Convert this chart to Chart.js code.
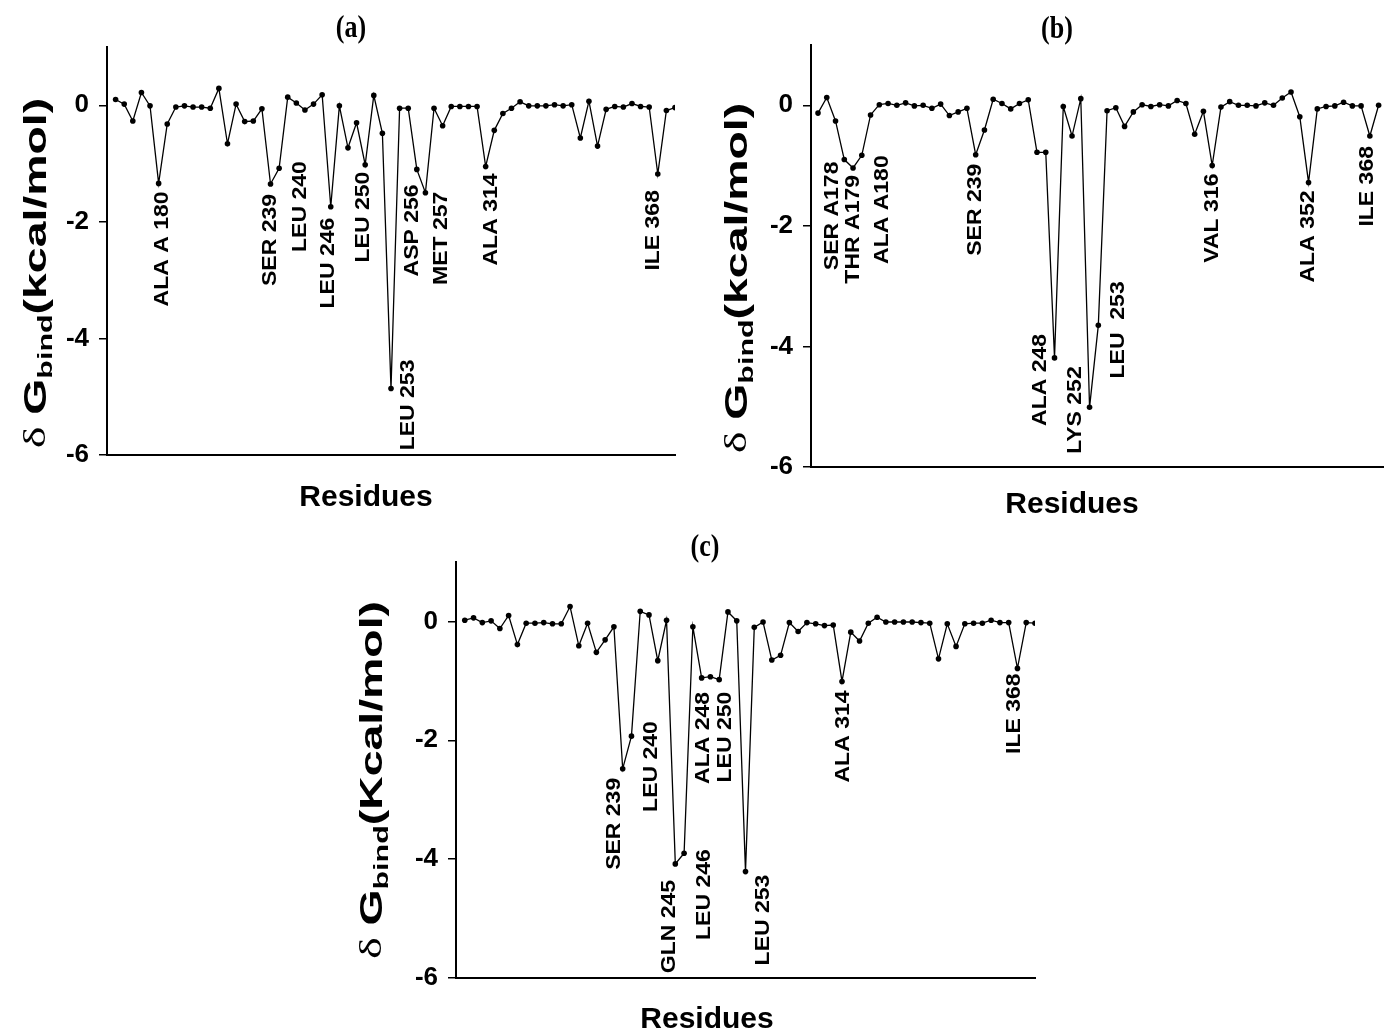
<!DOCTYPE html>
<html lang="en">
<head>
    <meta charset="utf-8">
    <title>Per-residue decomposition of binding free energy</title>
    <script src="https://cdn.jsdelivr.net/npm/chart.js"></script>
    <style>
        html, body { margin: 0; padding: 0; background: #fff; }
        #figura { position: relative; width: 1387px; height: 1035px; overflow: hidden; }
        .painel { position: absolute; }
    </style>
</head>
<body>
    <div id="figura">
        <canvas id="graficoA" class="painel" width="690" height="530" style="left:0;top:0"></canvas>
        <canvas id="graficoB" class="painel" width="687" height="530" style="left:700px;top:0"></canvas>
        <canvas id="graficoC" class="painel" width="710" height="505" style="left:340px;top:530px"></canvas>
    </div>

    <script>
        // delta G bind per residue (kcal/mol)
        let dgA = [0.10, 0.02, -0.27, 0.22, -0.01, -1.34, -0.32, -0.03, -0.01, -0.03,
                   -0.03, -0.05, 0.29, -0.66, 0.02, -0.28, -0.27, -0.06, -1.35, -1.08,
                   0.14, 0.04, -0.08, 0.02, 0.18, -1.74, -0.01, -0.73, -0.30, -1.02,
                   0.17, -0.48, -4.86, -0.05, -0.05, -1.10, -1.50, -0.05, -0.35, -0.02,
                   -0.02, -0.02, -0.02, -1.05, -0.43, -0.14, -0.05, 0.06, -0.01, -0.01,
                   -0.01, 0.01, -0.01, 0.01, -0.56, 0.07, -0.70, -0.07, -0.02, -0.03,
                   0.03, -0.02, -0.03, -1.18, -0.09, -0.04];
        let dgB = [-0.13, 0.13, -0.26, -0.90, -1.04, -0.83, -0.16, 0.01, 0.03, 0.00,
                   0.04, -0.01, 0.00, -0.05, 0.02, -0.17, -0.11, -0.05, -0.82, -0.41,
                   0.10, 0.03, -0.06, 0.03, 0.09, -0.78, -0.78, -4.19, -0.02, -0.51,
                   0.11, -5.01, -3.65, -0.09, -0.04, -0.35, -0.11, 0.01, -0.02, 0.01,
                   -0.01, 0.08, 0.03, -0.48, -0.10, -1.00, -0.03, 0.06, 0.00, 0.00,
                   -0.01, 0.04, 0.00, 0.12, 0.22, -0.19, -1.28, -0.06, -0.02, -0.01,
                   0.05, -0.01, -0.01, -0.51, 0.00];
        let dgC = [0.02, 0.06, -0.02, 0.01, -0.12, 0.10, -0.39, -0.03, -0.03, -0.02,
                   -0.04, -0.04, 0.25, -0.41, -0.03, -0.52, -0.31, -0.09, -2.48, -1.93,
                   0.17, 0.11, -0.66, 0.02, -4.08, -3.90, -0.09, -0.95, -0.93, -0.98,
                   0.16, 0.01, -4.21, -0.10, -0.01, -0.65, -0.57, -0.02, -0.17, -0.02,
                   -0.04, -0.07, -0.06, -1.01, -0.18, -0.33, -0.03, 0.07, -0.01, -0.01,
                   -0.01, -0.01, -0.02, -0.03, -0.63, -0.04, -0.42, -0.04, -0.03, -0.03,
                   0.02, -0.02, -0.02, -0.79, -0.02, -0.03];

        // labelled residues (position in the series, 1-based) and their names
        let rotIdxA = [6, 19, 20, 26, 30, 33, 36, 37, 44, 64];
        let rotTxtA = ['ALA A 180', 'SER 239', 'LEU 240', 'LEU 246', 'LEU 250', 'LEU 253', 'ASP 256', 'MET 257', 'ALA 314', 'ILE 368'];
        let rotIdxB = [4, 5, 6, 19, 28, 32, 33, 46, 57, 64];
        let rotTxtB = ['SER A178', 'THR A179', 'ALA A180', 'SER 239', 'ALA 248', 'LYS 252', 'LEU  253', 'VAL 316', 'ALA 352', 'ILE 368'];
        let rotIdxC = [19, 20, 25, 26, 28, 30, 33, 44, 64];
        let rotTxtC = ['SER 239', 'LEU 240', 'GLN 245', 'LEU 246', 'ALA 248', 'LEU 250', 'LEU 253', 'ALA 314', 'ILE 368'];

        let yTicks = [-6, -4, -2, 0];

        // where each label sits relative to its point (px)
        let desvioA = [[4, 8], [0, 10], [21, -7], [-2, 11], [-2, 7], [17, -29], [-4, 15], [16, -1], [6, 7], [-4, 16]];
        let desvioB = [[-12, 2], [0, 7], [21, 0], [0, 9], [-14, -24], [-14, -41], [20, -44], [0, 8], [0, 8], [-2, 10]];
        let desvioC = [[-8, 9], [20, -15], [-6, 16], [20, -4], [2, 14], [6, 12], [18, 3], [1, 9], [-3, 5]];

        const SANS = '"Liberation Sans", Arial, Helvetica, sans-serif';
        const SERIF = '"Liberation Serif", "Times New Roman", serif';
        const ESTICA = 1.15;   // the source figure is stretched vertically a little

        let paineis = [
            { id: 'graficoA', tag: '(a)', dados: dgA, idx: rotIdxA, txt: rotTxtA, desvio: desvioA, unidade: '(kcal/mol)',
              xMin: 0, xMax: 66, pad: { left: 0, top: 47, right: 15, bottom: 0 }, yW: 107, xH: 75,
              tagPos: [351, 29], resPos: [366, 498], yTitPos: [37, 273] },
            { id: 'graficoB', tag: '(b)', dados: dgB, idx: rotIdxB, txt: rotTxtB, desvio: desvioB, unidade: '(kcal/mol)',
              xMin: 0.2, xMax: 65.5, pad: { left: 0, top: 45, right: 0, bottom: 0 }, yW: 111, xH: 63,
              tagPos: [357, 30], resPos: [372, 505], yTitPos: [38, 278] },
            { id: 'graficoC', tag: '(c)', dados: dgC, idx: rotIdxC, txt: rotTxtC, desvio: desvioC, unidade: '(Kcal/mol)',
              xMin: 0, xMax: 66, pad: { left: 0, top: 32, right: 15, bottom: 0 }, yW: 116, xH: 57,
              tagPos: [365, 18], resPos: [367, 490], yTitPos: [33, 250] }
        ];

        function tituloY(ctx, p) {
            let partes = [
                { t: '\u03b4 ', f: '32px ' + SERIF, dy: 0 },
                { t: 'G', f: 'bold 32px ' + SANS, dy: 0 },
                { t: 'bind', f: 'bold 21px ' + SANS, dy: 9 },
                { t: p.unidade, f: 'bold 32px ' + SANS, dy: 0 }
            ];
            let total = 0;
            partes.forEach(pt => { ctx.font = pt.f; pt.w = ctx.measureText(pt.t).width; total += pt.w; });
            ctx.save();
            ctx.translate(p.yTitPos[0], p.yTitPos[1]);
            ctx.rotate(-Math.PI / 2);
            ctx.scale(1.45, 1);
            ctx.textAlign = 'left';
            ctx.textBaseline = 'middle';
            let x = -total / 2;
            partes.forEach(pt => {
                ctx.font = pt.f;
                ctx.fillText(pt.t, x, pt.dy);
                x += pt.w;
            });
            ctx.restore();
        }

        const textosPlugin = {
            id: 'textos',
            afterDraw(chart, args, opts) {
                let p = opts.painel;
                let ctx = chart.ctx;
                let xs = chart.scales.x, ys = chart.scales.y;
                ctx.save();
                ctx.fillStyle = '#000';

                // residue names, written upward under each dip
                p.idx.forEach((n, k) => {
                    let px = xs.getPixelForValue(n);
                    let py = ys.getPixelForValue(p.dados[n - 1]);
                    ctx.save();
                    ctx.translate(px + p.desvio[k][0], py + p.desvio[k][1]);
                    ctx.rotate(-Math.PI / 2);
                    ctx.scale(ESTICA, 1);
                    ctx.font = 'bold 20px ' + SANS;
                    ctx.textAlign = 'right';
                    ctx.textBaseline = 'middle';
                    ctx.fillText(p.txt[k], 0, 0);
                    ctx.restore();
                });

                // panel tag
                ctx.save();
                ctx.translate(p.tagPos[0], p.tagPos[1]);
                ctx.scale(1, 1.2);
                ctx.font = 'bold 26px ' + SERIF;
                ctx.textAlign = 'center';
                ctx.textBaseline = 'middle';
                ctx.fillText(p.tag, 0, 0);
                ctx.restore();

                // x title
                ctx.font = 'bold 30px ' + SANS;
                ctx.textAlign = 'center';
                ctx.textBaseline = 'middle';
                ctx.fillText('Residues', p.resPos[0], p.resPos[1]);

                tituloY(ctx, p);
                ctx.restore();
            }
        };

        function criarPainel(p) {
            new Chart(document.getElementById(p.id), {
                type: 'line',
                data: {
                    datasets: [{
                        data: p.dados.map((v, i) => ({ x: i + 1, y: v })),
                        borderColor: '#000',
                        borderWidth: 1.3,
                        backgroundColor: '#000',
                        pointRadius: 2.8,
                        pointBackgroundColor: '#000',
                        pointBorderWidth: 0,
                        tension: 0
                    }]
                },
                options: {
                    responsive: false,
                    animation: false,
                    layout: { padding: p.pad },
                    plugins: {
                        legend: { display: false },
                        tooltip: { enabled: false },
                        textos: { painel: p }
                    },
                    scales: {
                        x: {
                            type: 'linear',
                            min: p.xMin,
                            max: p.xMax,
                            grid: { display: false },
                            ticks: { display: false },
                            border: { display: true, color: '#000', width: 2 },
                            afterFit: s => { s.height = p.xH; }
                        },
                        y: {
                            min: -6,
                            max: 1,
                            afterBuildTicks: s => { s.ticks = yTicks.map(v => ({ value: v })); },
                            grid: { display: true, drawOnChartArea: false, drawTicks: true, tickLength: 8, color: '#000', lineWidth: 1.5 },
                            border: { display: true, color: '#000', width: 2 },
                            ticks: {
                                color: '#000',
                                padding: 10,
                                font: { family: '"Liberation Sans Narrow", ' + SANS, size: 26, weight: 'bold' }
                            },
                            afterFit: s => { s.width = p.yW; }
                        }
                    }
                },
                plugins: [textosPlugin]
            });
        }

        paineis.forEach(criarPainel);
    </script>
</body>
</html>
